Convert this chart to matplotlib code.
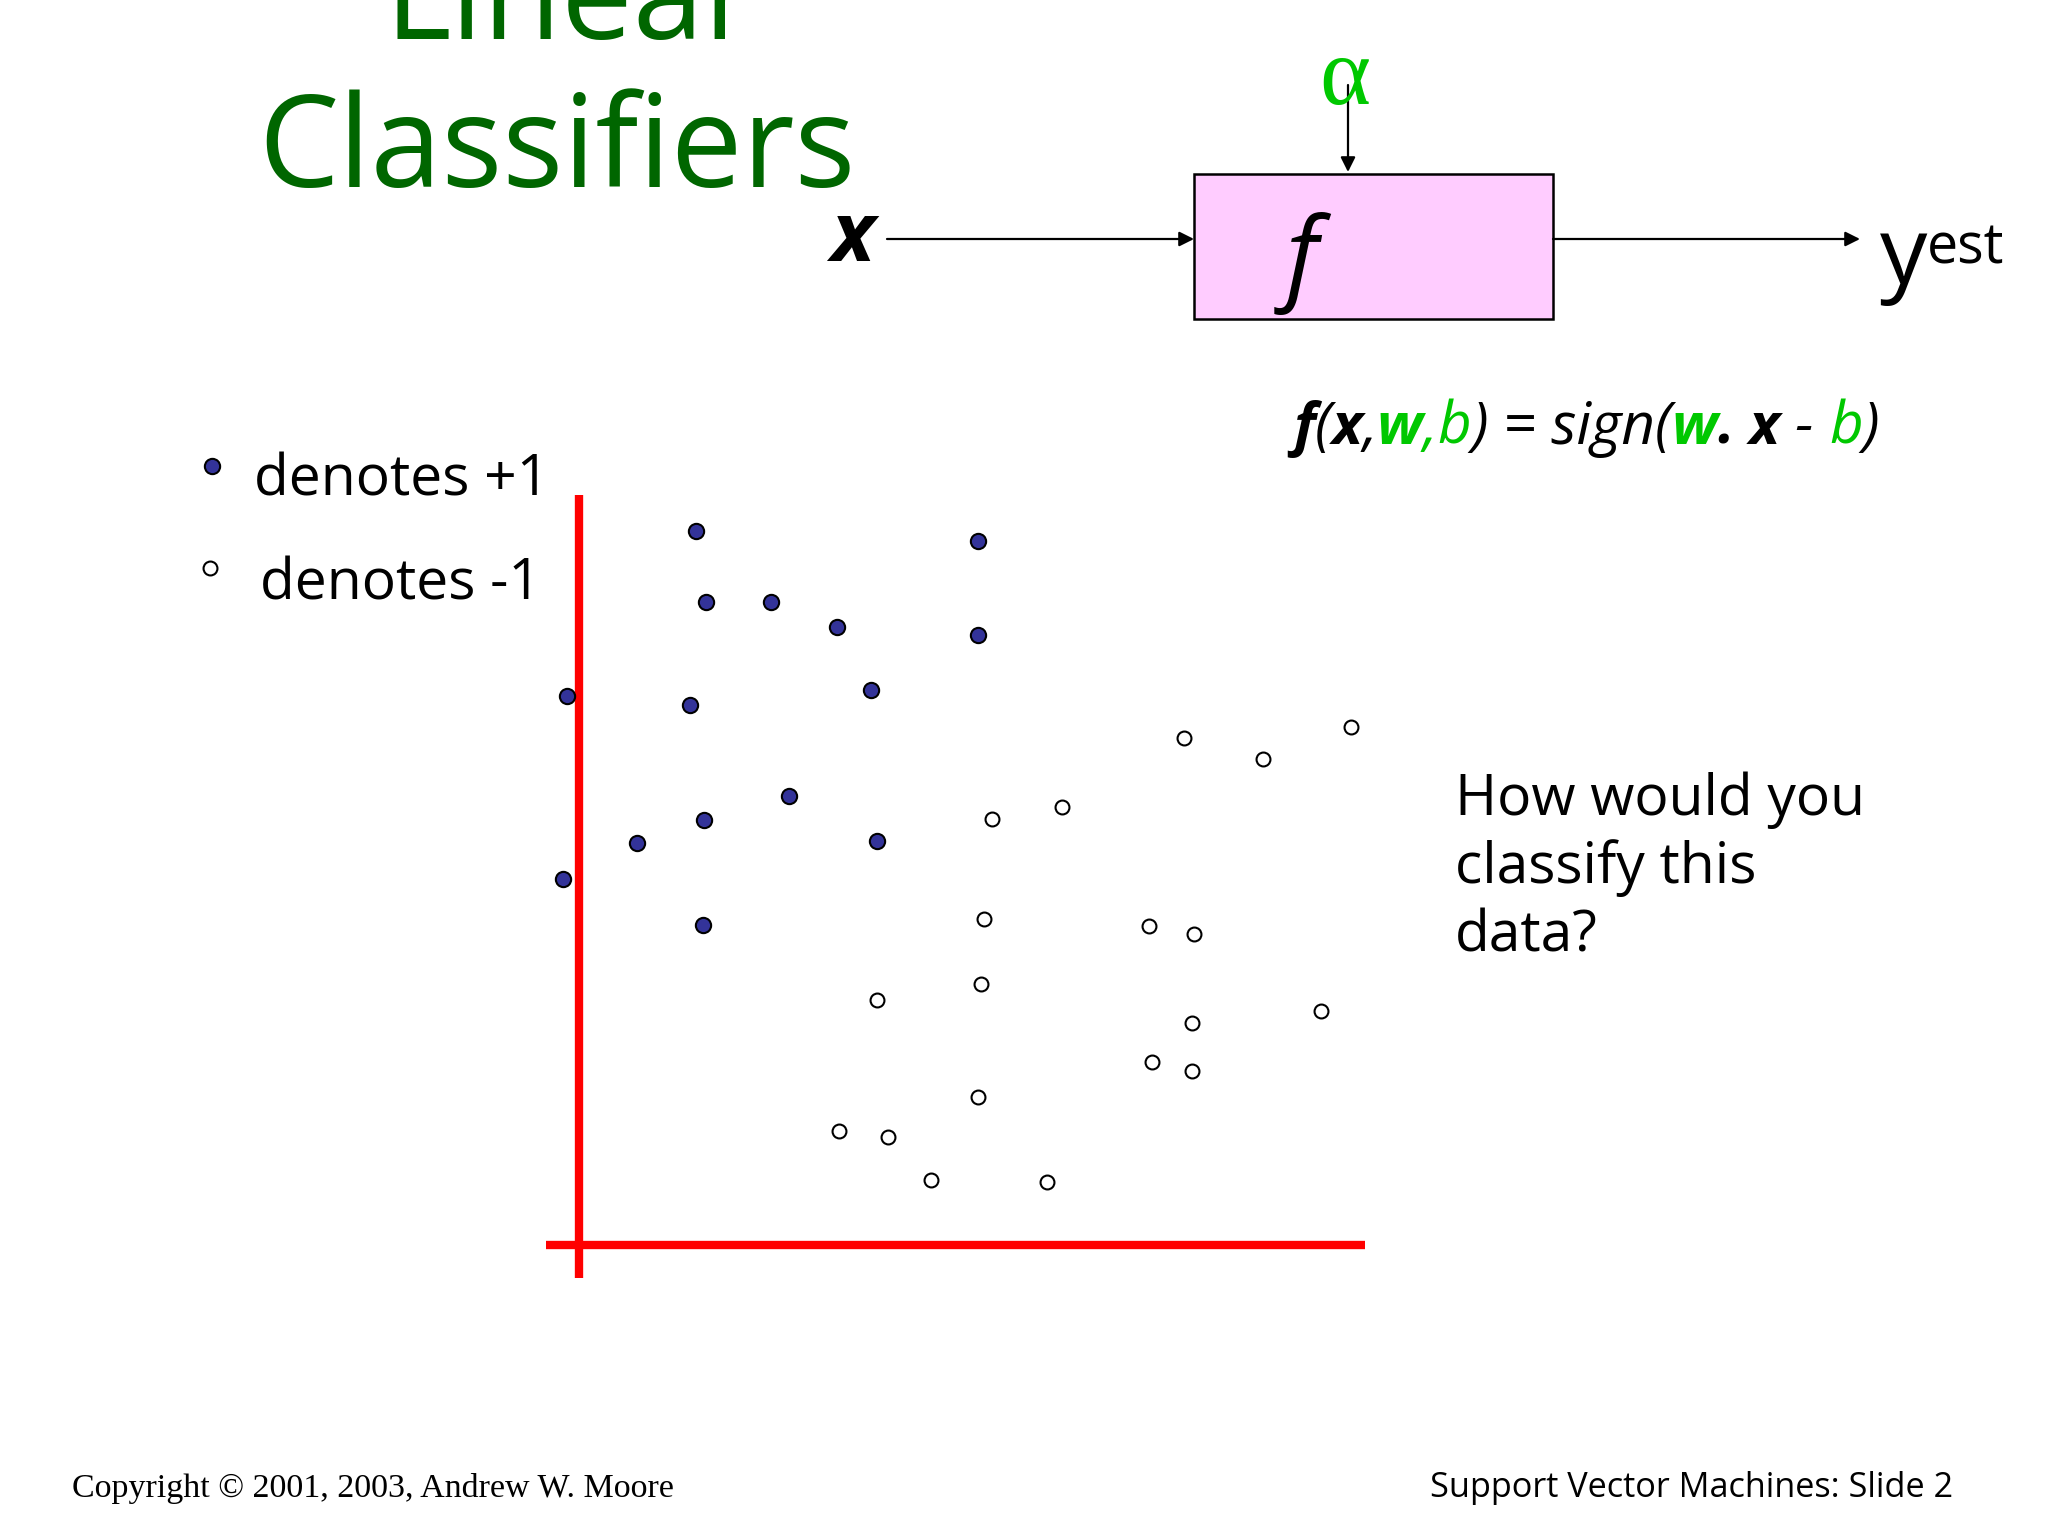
import matplotlib
matplotlib.use('Agg')
import matplotlib.pyplot as plt
from matplotlib.patches import Rectangle

W, H = 2048, 1536

# class +1 points (filled), in units of the red axes
pos_x = [1.50, 5.10, 1.63, 2.45, 3.30, 5.10, -0.15, 1.42, 3.73, 2.68, 1.60, 0.75, 3.80, -0.20, 1.58]
pos_y = [9.10, 8.98, 8.20, 8.20, 7.88, 7.78, 7.00, 6.88, 7.08, 5.72, 5.42, 5.13, 5.15, 4.67, 4.08]

# class -1 points (open)
neg_x = [7.72, 8.73, 9.85, 5.28, 6.17, 5.17, 7.28, 7.85, 5.13, 3.80, 7.83, 9.47, 7.32, 7.83,
         5.10, 3.32, 3.95, 4.50, 5.97]
neg_y = [6.47, 6.20, 6.60, 5.43, 5.58, 4.15, 4.07, 3.97, 3.33, 3.12, 2.83, 2.98, 2.33, 2.22,
         1.88, 1.45, 1.38, 0.82, 0.80]

title_lines = ['Linear', 'Classifiers']
legend_labels = ['denotes +1', 'denotes -1']
question_lines = ['How would you', 'classify this', 'data?']
footer_left = 'Copyright \u00a9 2001, 2003, Andrew W. Moore'
footer_right = 'Support Vector Machines: Slide 2'

GREEN_DARK = '#006600'
GREEN = '#00c800'
NAVY = '#333399'
SANS = ['Open Sans', 'DejaVu Sans']
SERIF = ['Liberation Serif', 'DejaVu Serif']

plt.rcParams['font.family'] = SANS

fig = plt.figure(figsize=(20.48, 15.36), dpi=100)
renderer = fig.canvas.get_renderer()

# background axes in pixel units (y down) for the slide furniture
bg = fig.add_axes([0, 0, 1, 1])
bg.set_xlim(0, W)
bg.set_ylim(H, 0)
bg.axis('off')


def chain(x, y, pieces, size):
    # write text pieces one after another on one baseline
    for s, color, weight in pieces:
        t = bg.text(x, y, s, fontsize=size, color=color, fontweight=weight,
                    style='italic', va='baseline', ha='left')
        x += t.get_window_extent(renderer).width
    return x


# title
for line, xc, yb in zip(title_lines, [570, 557], [39, 187]):
    bg.text(xc, yb, line, fontsize=92, color=GREEN_DARK, ha='center', va='baseline')

# block diagram
bg.add_patch(Rectangle((1194, 174), 359, 145, facecolor='#ffccff', edgecolor='black', lw=1.8))
arrow = dict(arrowstyle='-|>', color='black', lw=1.6, mutation_scale=22, shrinkA=0, shrinkB=0)
bg.annotate('', xy=(1194, 239), xytext=(887, 239), arrowprops=arrow)
bg.annotate('', xy=(1860, 239), xytext=(1553, 239), arrowprops=arrow)
bg.annotate('', xy=(1348, 172), xytext=(1348, 85), arrowprops=arrow)
bg.text(1345, 81, '\u03b1', fontsize=70, color=GREEN, family=SERIF, ha='center', va='center')
bg.text(852, 261, 'x', fontsize=60, fontweight='bold', style='italic', ha='center', va='baseline')
bg.text(1302, 290, 'f', fontsize=74, style='italic', ha='center', va='baseline')
t = bg.text(1880, 284, 'y', fontsize=68, ha='left', va='baseline')
bg.text(1880 + t.get_window_extent(renderer).width, 264, 'est', fontsize=40,
        ha='left', va='baseline')

# decision function
chain(1293, 444, [
    ('f', 'black', 'bold'), ('(', 'black', 'normal'), ('x', 'black', 'bold'),
    (',', 'black', 'normal'), ('w', GREEN, 'bold'), (',', GREEN, 'normal'),
    ('b', GREEN, 'normal'), (') = sign(', 'black', 'normal'), ('w', GREEN, 'bold'),
    ('.', 'black', 'bold'), (' x', 'black', 'bold'), (' - ', 'black', 'normal'),
    ('b', GREEN, 'normal'), (')', 'black', 'normal'),
], 42)

# legend
bg.plot([212], [466], 'o', ms=11, mfc=NAVY, mec='black', mew=1.5)
bg.plot([210], [568], 'o', ms=10, mfc='white', mec='black', mew=1.5)
for label, xl, yb in zip(legend_labels, [254, 260], [496, 600]):
    bg.text(xl, yb, label, fontsize=41, ha='left', va='baseline')

# question
for line, yb in zip(question_lines, [815, 883, 951]):
    bg.text(1455, yb, line, fontsize=41, ha='left', va='baseline')

# footer
bg.text(72, 1497, footer_left, fontsize=24.5, family=SERIF, ha='left', va='baseline')
bg.text(1953, 1497, footer_right, fontsize=24.7, ha='right', va='baseline')

# scatter axes: the red cross is the origin
ax = fig.add_axes([0.2443, 0.1386, 0.4592, 0.5613])
ax.set_xlim(-1, 11)
ax.set_ylim(-1, 10)
ax.axis('off')
ax.plot([0, 0], [-0.43, 9.57], color='red', lw=6, solid_capstyle='butt')
ax.plot([-0.42, 10.03], [0, 0], color='red', lw=6, solid_capstyle='butt')
ax.plot(pos_x, pos_y, 'o', ms=11, mfc=NAVY, mec='black', mew=1.5, clip_on=False)
ax.plot(neg_x, neg_y, 'o', ms=10, mfc='white', mec='black', mew=1.5, clip_on=False)

fig.savefig('out.png', dpi=100)
